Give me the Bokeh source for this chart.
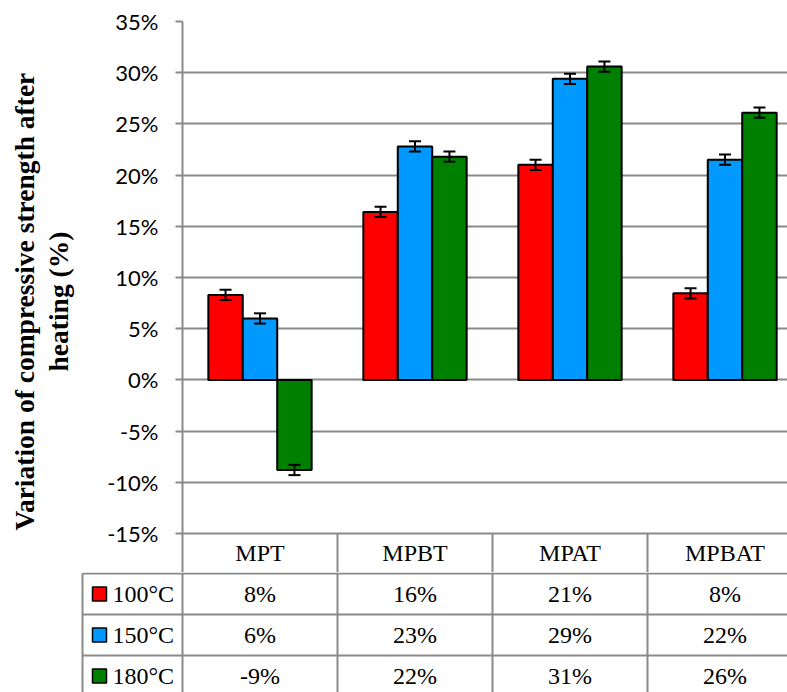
import math
from bokeh.plotting import figure
from bokeh.layouts import column
from bokeh.models import (Range1d, FixedTicker, NumeralTickFormatter, Whisker,
                          TeeHead, ColumnDataSource)
from bokeh.core.properties import value
from bokeh.embed import file_html
from bokeh.resources import INLINE

# ---------------- data ----------------
categories = ["MPT", "MPBT", "MPAT", "MPBAT"]
series = ["100°C", "150°C", "180°C"]
v100 = [8.3, 16.4, 21.0, 8.45]
v150 = [6.0, 22.8, 29.4, 21.5]
v180 = [-8.8, 21.8, 30.6, 26.1]
err100 = [0.5, 0.5, 0.5, 0.5]
err150 = [0.5, 0.5, 0.5, 0.5]
err180 = [0.5, 0.5, 0.5, 0.5]
yticks = [-15, -10, -5, 0, 5, 10, 15, 20, 25, 30, 35]
colors = ["#FF0000", "#0099FF", "#008000"]
ylabel_lines = ["Variation of compressive strength after", "heating (%)"]

values = [v100, v150, v180]
errors = [err100, err150, err180]

# ---------------- layout constants ----------------
GREY = "#8a8a8a"
W = 787
UNIT = 155.0           # px per category
FRAME_L = 182
X_START = (0 - FRAME_L) / UNIT
X_END = (W - FRAME_L) / UNIT
BAR_W = 1 / 4.5
ROW_PX = 41.0
NBSP = "\u00a0"

# ---------------- chart figure ----------------
pA = figure(width=W, height=572, x_range=Range1d(0, X_END),
            y_range=Range1d(-0.15, 0.35), output_backend="svg",
            toolbar_location=None, min_border_left=FRAME_L, min_border_right=0,
            min_border_top=21, min_border_bottom=39, frame_align=False)
pA.outline_line_color = None
pA.xgrid.visible = False
pA.ygrid.ticker = FixedTicker(ticks=[t / 100 for t in yticks])
pA.ygrid.grid_line_color = GREY
pA.ygrid.grid_line_width = 2

yax = pA.yaxis[0]
yax.ticker = FixedTicker(ticks=[t / 100 for t in yticks])
yax.formatter = NumeralTickFormatter(format="0%")
yax.major_tick_out = 7
yax.major_tick_in = 0
yax.minor_tick_out = 0
yax.minor_tick_in = 0
yax.axis_line_color = GREY
yax.axis_line_width = 2
yax.major_tick_line_color = GREY
yax.major_tick_line_width = 2
yax.major_label_text_font = "Lato"
yax.major_label_text_font_size = "22px"
yax.major_label_text_color = "black"
yax.major_label_standoff = 17
pad = NBSP * 7
yax.axis_label = "\n".join(line + pad for line in ylabel_lines)
yax.axis_label_text_font = "Liberation Serif"
yax.axis_label_text_font_style = "bold"
yax.axis_label_text_font_size = "27.5px"
yax.axis_label_text_line_height = 1.1
yax.axis_label_text_color = "black"
yax.axis_label_standoff = 30

xax = pA.xaxis[0]
centers = [i + 0.5 for i in range(len(categories))]
bounds = [i for i in range(len(categories) + 1)]
xax.ticker = FixedTicker(ticks=centers, minor_ticks=bounds)
xax.major_label_overrides = {c: name for c, name in zip(centers, categories)}
xax.major_tick_out = 0
xax.major_tick_in = 0
xax.minor_tick_out = 39
xax.minor_tick_in = 0
xax.minor_tick_line_color = GREY
xax.minor_tick_line_width = 2
xax.axis_line_color = GREY
xax.axis_line_width = 2
xax.major_label_text_font = "Liberation Serif"
xax.major_label_text_font_size = "24px"
xax.major_label_text_color = "black"
xax.major_label_standoff = -33

offsets = [-BAR_W, 0.0, BAR_W]
for vals, errs, col, off in zip(values, errors, colors, offsets):
    xs = [c + off for c in centers]
    tops = [v / 100 for v in vals]
    src = ColumnDataSource(dict(
        x=xs, top=tops,
        upper=[(v + e) / 100 for v, e in zip(vals, errs)],
        lower=[(v - e) / 100 for v, e in zip(vals, errs)]))
    pA.vbar(x="x", top="top", bottom=0, width=BAR_W, source=src,
            fill_color=col, line_color="black", line_width=2)
    w = Whisker(source=src, base="x", upper="upper", lower="lower",
                line_color="black", line_width=2, level="annotation",
                upper_head=TeeHead(size=12, line_width=2, line_color="black"),
                lower_head=TeeHead(size=12, line_width=2, line_color="black"))
    pA.add_layout(w)

# ---------------- data table figure ----------------
row_top = -1 / ROW_PX
row_bottom = (692 - 573) / ROW_PX
pB = figure(width=W, height=120, x_range=Range1d(X_START, X_END),
            y_range=Range1d(row_bottom, row_top), output_backend="svg",
            toolbar_location=None, x_axis_location=None, y_axis_location=None,
            min_border_left=0, min_border_right=0, min_border_top=0,
            min_border_bottom=0, frame_align=False)
pB.outline_line_color = None
pB.grid.visible = False

LEG_X = (82 - FRAME_L) / UNIT
nrows = len(series)
ncols = len(categories)
# horizontal lines
pB.segment(x0=[LEG_X] * (nrows + 1), x1=[ncols] * (nrows + 1),
           y0=list(range(nrows + 1)), y1=list(range(nrows + 1)),
           line_color=GREY, line_width=2)
# vertical lines
vx = [LEG_X] + bounds
pB.segment(x0=vx, x1=vx, y0=[0] * len(vx), y1=[nrows] * len(vx),
           line_color=GREY, line_width=2)

# legend keys
pB.scatter(x=[(99 - FRAME_L) / UNIT] * nrows, y=[i + 0.5 for i in range(nrows)],
           marker="square", size=14, fill_color=colors, line_color="black",
           line_width=1.5)
pB.text(x=[(112 - FRAME_L) / UNIT] * nrows, y=[i + 0.5 for i in range(nrows)],
        text=series, text_align="left", text_baseline="middle",
        text_font=value("Liberation Serif"), text_font_size="24px",
        text_color="black")

# values
tx, ty, tt = [], [], []
for i, vals in enumerate(values):
    for j, v in enumerate(vals):
        tx.append(centers[j])
        ty.append(i + 0.5)
        tt.append(f"{round(v):d}%")
pB.text(x=tx, y=ty, text=tt, text_align="center", text_baseline="middle",
        text_font=value("Liberation Serif"), text_font_size="24px",
        text_color="black")

layout = column(pA, pB, spacing=0)
open("out.html", "w").write(file_html(layout, INLINE))
